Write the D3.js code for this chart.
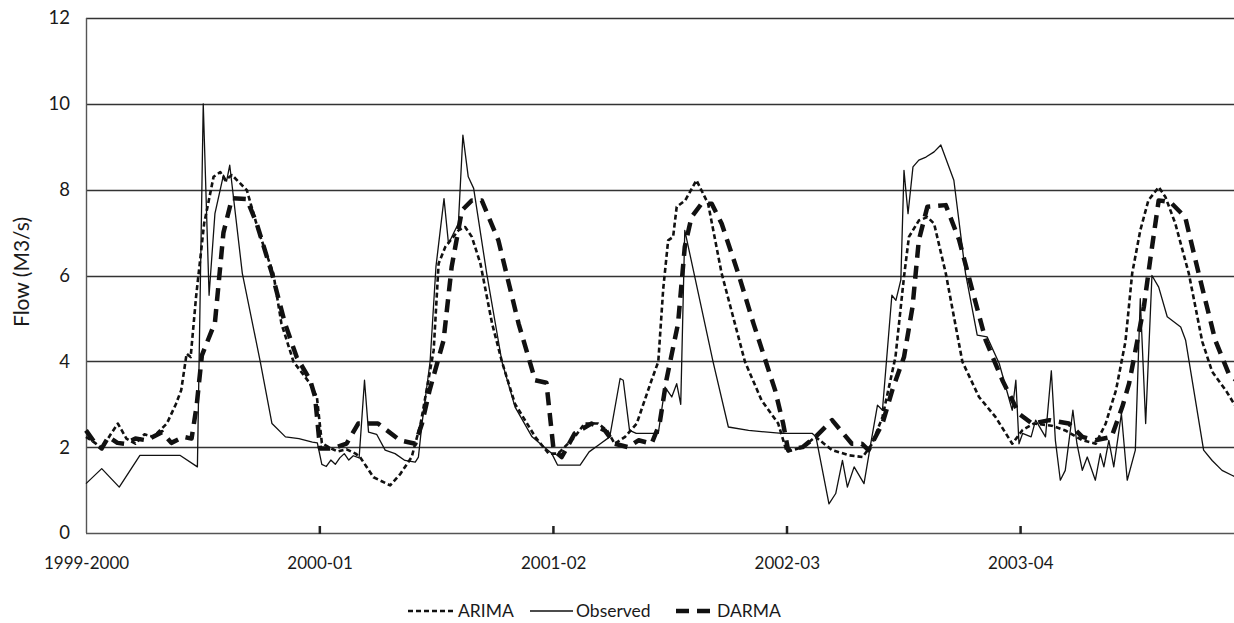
<!DOCTYPE html>
<html>
<head>
<meta charset="utf-8">
<script src="https://cdn.jsdelivr.net/npm/d3@7"></script>
<style>
    body { margin: 0; background: #fff; }
    text { font-family: Lato, "Open Sans", sans-serif; fill: #1a1a1a; }
</style>
</head>
<body>
<div id="chart"></div>
<script>
// Weekly flow series, as [week, flow] pairs
var observed = [
    [0,1.15],[3.5,1.5],[7.4,1.07],[12,1.81],[20.9,1.81],[24.8,1.54],[26.1,10.0],[27.4,5.54],[28.7,7.44],[30.6,8.34],
    [31.3,8.2],[32.0,8.57],[34.8,6.05],[38.8,3.99],[41.4,2.55],[44.4,2.24],[47.4,2.2],[50.4,2.12],[51.5,2.1],[52.5,1.6],
    [53.5,1.55],[54.5,1.7],[55.5,1.6],[56.5,1.75],[57.5,1.85],[58.5,1.7],[59.5,1.8],[60.8,1.75],[62,3.56],[62.9,2.35],
    [64.7,2.3],[66.6,1.93],[68.8,1.85],[71,1.69],[73.3,1.65],[74,1.77],[74.8,2.55],[76.6,3.99],[77.9,6.2],[79.7,7.79],
    [80.7,6.74],[81.8,6.98],[82.9,7.21],[83.9,9.27],[85.1,8.3],[86.3,8.03],[89.2,6.05],[92.6,3.99],[95.5,2.94],[99.3,2.24],
    [103.7,1.85],[105,1.58],[110,1.58],[112,1.89],[114.5,2.08],[116.6,2.24],[118.9,3.6],[119.6,3.56],[121,2.39],[122.5,2.32],
    [127.4,2.32],[128.9,3.4],[130.4,3.17],[131.5,3.48],[132.4,3.0],[133.3,7.05],[139.6,3.99],[143,2.47],[147.5,2.39],[154.9,2.32],
    [161.7,2.32],[162.5,2.24],[165.4,0.68],[166.9,0.92],[168.4,1.69],[169.5,1.07],[171,1.54],[173.2,1.15],[174.7,2.08],[176.2,2.98],
    [177.3,2.86],[179.4,5.54],[180.3,5.42],[181.4,5.9],[182.1,8.45],[183,7.44],[184.1,8.53],[185.4,8.69],[187,8.76],[188.8,8.88],
    [190.3,9.04],[193.2,8.22],[195.8,6.05],[198.4,4.61],[200.6,4.57],[203.3,3.95],[206.2,2.86],[207,3.56],[207.7,2.08],[208.5,2.32],
    [210.4,2.24],[211.4,2.63],[213.6,2.24],[214.9,3.78],[215.8,2.16],[216.9,1.23],[218,1.46],[219.7,2.86],[220.6,2.08],[221.8,1.46],
    [222.9,1.77],[224.7,1.23],[225.8,1.85],[226.6,1.54],[227.7,2.16],[228.8,1.54],[230.5,2.78],[231.8,1.23],[233.6,1.93],[234.7,5.46],
    [235.9,2.55],[237.3,6.0],[238.8,5.73],[240.7,5.04],[243.7,4.8],[244.8,4.49],[248.8,1.93],[250.7,1.69],[252.9,1.46],[255.2,1.34],
    [256,1.3]
];

var arima = [
    [0,2.24],[2,2.1],[3.5,1.97],[5.5,2.3],[7.1,2.55],[9,2.2],[11,2.08],[13,2.3],[15,2.24],[18,2.55],
    [20,3.0],[21.2,3.33],[22.4,4.18],[23.3,4.1],[24.5,5.5],[26.3,7.21],[28.4,8.3],[29.9,8.41],[31,8.22],[32.5,8.34],
    [35.8,7.99],[38.5,7.0],[41.7,6.05],[43.5,4.88],[46.2,3.99],[49.9,3.48],[51.4,3.17],[52.5,2.1],[54,2.0],[56,1.9],
    [58,1.95],[60,1.85],[61,1.77],[64,1.3],[67.7,1.11],[70,1.38],[72.5,1.77],[74.5,2.55],[77.4,4.26],[78.5,6.28],
    [80,6.67],[82.9,7.05],[84.4,7.13],[85.9,6.9],[87.8,6.28],[90.4,4.88],[92.6,3.99],[95.5,3.01],[100,2.24],[103,1.85],
    [105.1,1.85],[108.8,2.24],[111,2.55],[114,2.55],[116,2.39],[117.7,2.08],[120,2.24],[122.6,2.55],[125.9,3.56],[127.4,3.99],
    [128.5,5.69],[129.6,6.82],[130.7,6.9],[131.5,7.6],[133.4,7.75],[135.9,8.22],[138.5,7.67],[141.5,6.05],[146.7,3.99],[150.4,3.09],
    [154.1,2.55],[156,1.89],[159.5,2.0],[162.4,2.24],[166.1,1.93],[169.9,1.81],[172.9,1.77],[175,2.08],[177.3,2.7],[180.2,4.1],
    [182.1,5.97],[183.2,6.9],[185.4,7.28],[187.3,7.36],[188.8,7.21],[191.4,6.05],[195.1,3.99],[198.8,3.17],[202.5,2.7],[206.2,2.08],
    [208.5,2.4],[211,2.55],[215,2.5],[218,2.39],[221.8,2.16],[224.8,2.08],[227,2.55],[229.3,3.33],[231.4,4.46],[232.9,6.05],
    [234.7,7.05],[236.5,7.75],[238.8,8.06],[240.3,7.83],[242.5,7.21],[245.5,6.05],[248.5,4.46],[250.7,3.76],[253.7,3.33],[256,2.94]
];

var darma = [
    [0,2.39],[2,2.1],[3.5,1.97],[5,2.24],[7,2.1],[8.5,2.08],[11,2.2],[13.5,2.16],[16.9,2.35],[19,2.1],
    [21.7,2.24],[23.5,2.2],[24.6,2.94],[25.8,4.14],[28.7,4.9],[30.6,7.0],[32.5,7.8],[35.8,7.78],[38,7.21],[41.4,6.05],
    [44.3,4.88],[46.9,4.1],[49.9,3.56],[51,3.17],[52.1,1.97],[55,1.97],[58,2.08],[60.6,2.55],[65,2.55],[69.9,2.16],
    [73.3,2.08],[74.8,2.55],[76.5,3.33],[79.6,4.49],[81.4,6.2],[83.7,7.52],[85.9,7.75],[88.1,7.75],[91.8,6.82],[96.3,4.88],
    [100,3.56],[102.5,3.5],[104.1,1.93],[105.9,1.77],[108.8,2.32],[112.5,2.55],[115.5,2.39],[117.7,2.08],[120.7,2.0],[123,2.16],
    [125.9,2.08],[127.7,2.55],[129.2,3.56],[131.8,4.88],[133.3,6.67],[134.8,7.36],[137,7.67],[139.3,7.67],[141.5,7.21],[145.2,6.05],
    [148.6,4.88],[153.4,3.33],[155.2,2.55],[156.3,1.93],[159.5,2.0],[162.4,2.24],[166.1,2.63],[170.5,2.08],[172.7,2.08],[174.2,1.93],
    [177.3,2.55],[179.5,3.33],[182.1,4.1],[184,5.27],[185.4,6.82],[187.3,7.6],[191.4,7.64],[194.4,6.82],[197.3,5.66],[200.3,4.49],
    [204,3.56],[207.7,2.78],[210.6,2.55],[214.5,2.63],[218.8,2.55],[221.8,2.24],[224.7,2.16],[228.3,2.24],[230.7,2.94],[232.2,3.48],
    [235.5,5.27],[237,6.43],[238.8,7.75],[241.4,7.71],[244.7,7.36],[247.7,6.05],[251.4,4.49],[254.4,3.71],[256,3.56]
];

// Season labels sit at the start week of each year
var seasonLabels = ["1999-2000", "2000-01", "2001-02", "2002-03", "2003-04"];
var seasonWeeks = [0, 52, 104, 156, 208];
var flowTicks = [0, 2, 4, 6, 8, 10, 12];

var svgWidth = 1234;
var svgHeight = 623;

var margin = { top: 18, right: 0, bottom: 90, left: 86 };
var height = svgHeight - margin.top - margin.bottom;

var svg = d3.select("#chart")
    .append("svg")
    .attr("width", svgWidth)
    .attr("height", svgHeight);

// one season is ~233.6px wide in the figure
var xScale = d3.scaleLinear()
    .domain([0, 256])
    .range([margin.left, margin.left + 256 * 4.492]);

var yScale = d3.scaleLinear()
    .domain([0, 12])
    .range([margin.top + height, margin.top]);

// Horizontal gridlines
svg.append("g")
    .selectAll("line")
    .data(flowTicks)
    .enter()
    .append("line")
    .attr("x1", margin.left)
    .attr("x2", svgWidth)
    .attr("y1", d => Math.round(yScale(d)) + 0.5)
    .attr("y2", d => Math.round(yScale(d)) + 0.5)
    .attr("stroke", d => d === 0 ? "#555" : "#333")
    .attr("stroke-width", 1.4);

// Left axis line
svg.append("line")
    .attr("x1", margin.left + 0.5)
    .attr("x2", margin.left + 0.5)
    .attr("y1", yScale(12))
    .attr("y2", yScale(0))
    .attr("stroke", "#555")
    .attr("stroke-width", 1.4);

// Y tick labels
var leftAxis = d3.axisLeft(yScale)
    .tickValues(flowTicks)
    .tickSize(0)
    .tickPadding(16);

var yAxis = svg.append("g")
    .attr("transform", `translate(${margin.left}, 0)`)
    .call(leftAxis);
yAxis.select(".domain").remove();
yAxis.selectAll("text")
    .style("font-size", "18.5px")
    .attr("fill", "#1a1a1a");

// X axis: small marks at season boundaries, labels below
var bottomAxis = d3.axisBottom(xScale)
    .tickValues(seasonWeeks)
    .tickFormat((d, i) => seasonLabels[i])
    .tickSize(0)
    .tickPadding(24);

var xAxis = svg.append("g")
    .attr("transform", `translate(0, ${yScale(0)})`)
    .call(bottomAxis);
xAxis.select(".domain").remove();
xAxis.selectAll("text")
    .style("font-size", "17px")
    .attr("fill", "#1a1a1a");

svg.append("g")
    .selectAll("rect")
    .data(seasonWeeks.slice(1))
    .enter()
    .append("rect")
    .attr("x", d => xScale(d) - 1)
    .attr("y", yScale(0) - 7)
    .attr("width", 2.5)
    .attr("height", 8)
    .attr("fill", "#222");

// Y axis title
svg.append("text")
    .attr("transform", `translate(29, 272) rotate(-90)`)
    .attr("text-anchor", "middle")
    .style("font-size", "21px")
    .text("Flow (M3/s)");

// Lines
var line = d3.line()
    .x(d => xScale(d[0]))
    .y(d => yScale(d[1]));

var series = [
    { name: "ARIMA", data: arima, width: 2.6, dash: "5,3" },
    { name: "Observed", data: observed, width: 1.3, dash: null },
    { name: "DARMA", data: darma, width: 4.5, dash: "13,8" }
];

svg.append("g")
    .selectAll("path")
    .data(series)
    .enter()
    .append("path")
    .attr("d", d => line(d.data))
    .attr("fill", "none")
    .attr("stroke", "#111")
    .attr("stroke-width", d => d.width)
    .attr("stroke-dasharray", d => d.dash)
    .attr("stroke-linejoin", "round");

// Legend
var legendItems = [
    { s: series[0], x1: 408, x2: 455 },
    { s: series[1], x1: 530, x2: 573 },
    { s: series[2], x1: 676, x2: 714 }
];
var legendY = 611;

var legend = svg.append("g");
legend.selectAll("line")
    .data(legendItems)
    .enter()
    .append("line")
    .attr("x1", d => d.x1)
    .attr("x2", d => d.x2)
    .attr("y1", legendY)
    .attr("y2", legendY)
    .attr("stroke", "#111")
    .attr("stroke-width", d => d.s.width)
    .attr("stroke-dasharray", d => d.s.dash);

legend.selectAll("text")
    .data(legendItems)
    .enter()
    .append("text")
    .attr("x", d => d.x2 + 3)
    .attr("y", legendY + 6)
    .style("font-size", "17.5px")
    .text(d => d.s.name);
</script>
</body>
</html>
